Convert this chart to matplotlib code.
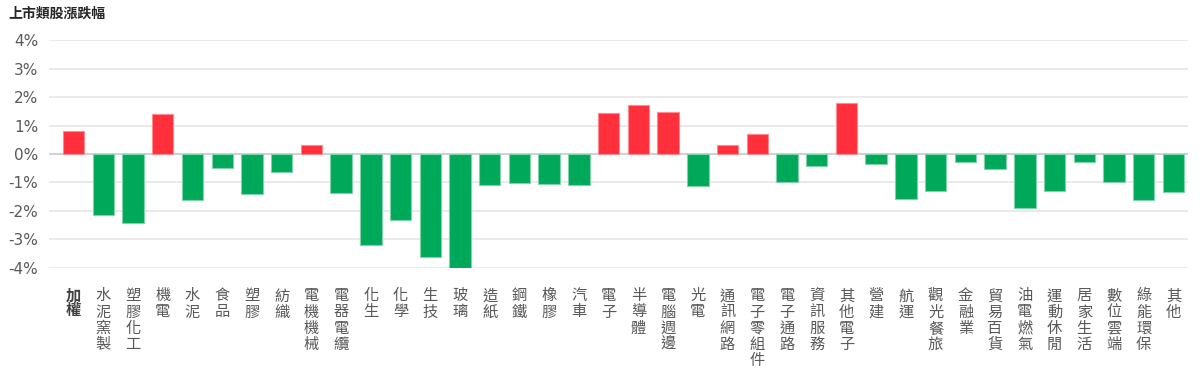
import numpy as np
import matplotlib
matplotlib.use('Agg')
import matplotlib.pyplot as plt

plt.rcParams['font.family'] = ['Noto Sans CJK TC', 'DejaVu Sans']

# Sector names and daily change (%)
sectors = ['加權', '水泥窯製', '塑膠化工', '機電', '水泥', '食品', '塑膠', '紡織',
           '電機機械', '電器電纜', '化生', '化學', '生技', '玻璃', '造紙', '鋼鐵',
           '橡膠', '汽車', '電子', '半導體', '電腦週邊', '光電', '通訊網路',
           '電子零組件', '電子通路', '資訊服務', '其他電子', '營建', '航運',
           '觀光餐旅', '金融業', '貿易百貨', '油電燃氣', '運動休閒', '居家生活',
           '數位雲端', '綠能環保', '其他']
changes = [0.82, -2.13, -2.43, 1.41, -1.62, -0.49, -1.42, -0.64,
           0.32, -1.37, -3.21, -2.32, -3.60, -4.00, -1.08, -1.02,
           -1.06, -1.09, 1.44, 1.72, 1.47, -1.11, 0.32,
           0.69, -0.97, -0.43, 1.79, -0.36, -1.58,
           -1.29, -0.27, -0.54, -1.90, -1.31, -0.29,
           -1.00, -1.61, -1.32]
yticks = [-4, -3, -2, -1, 0, 1, 2, 3, 4]

red = '#FF303B'
green = '#00A85A'

fig = plt.figure(figsize=(12, 3.85), dpi=100)
ax = fig.add_axes([0.041, 0.304, 0.949, 0.592])

x = np.arange(len(sectors))
vals = np.array(changes)
colors = [red if v >= 0 else green for v in vals]
edges = ['#FF8A90' if v >= 0 else '#7FD3AB' for v in vals]
ax.bar(x, vals, width=0.72, color=colors, edgecolor=edges, linewidth=0.8, zorder=3)

ax.set_ylim(-4, 4)
ax.set_xlim(-0.82, len(sectors) - 0.51)
ax.set_yticks(yticks)
ax.set_yticklabels([f'{t}%' for t in yticks], fontsize=11, color='#595959',
                   family=['DejaVu Sans'])
for t in yticks:
    ax.axhline(t, color='#c8c8c8' if t == 0 else '#e6e6e6', lw=1.2, zorder=1)

ax.set_xticks(x)
ax.set_xticklabels(['\n'.join(s) for s in sectors], fontsize=11, color='#595959',
                   va='top', linespacing=0.93)
ax.get_xticklabels()[0].set_fontweight('bold')
ax.get_xticklabels()[0].set_color('#404040')
ax.tick_params(axis='both', length=0)
ax.tick_params(axis='x', pad=14)
ax.tick_params(axis='y', pad=8)
for sp in ax.spines.values():
    sp.set_visible(False)

fig.text(0.007, 0.965, '上市類股漲跌幅', fontsize=10, fontweight='bold',
         color='#262626', va='center', ha='left')

fig.savefig('out.png', dpi=100)
